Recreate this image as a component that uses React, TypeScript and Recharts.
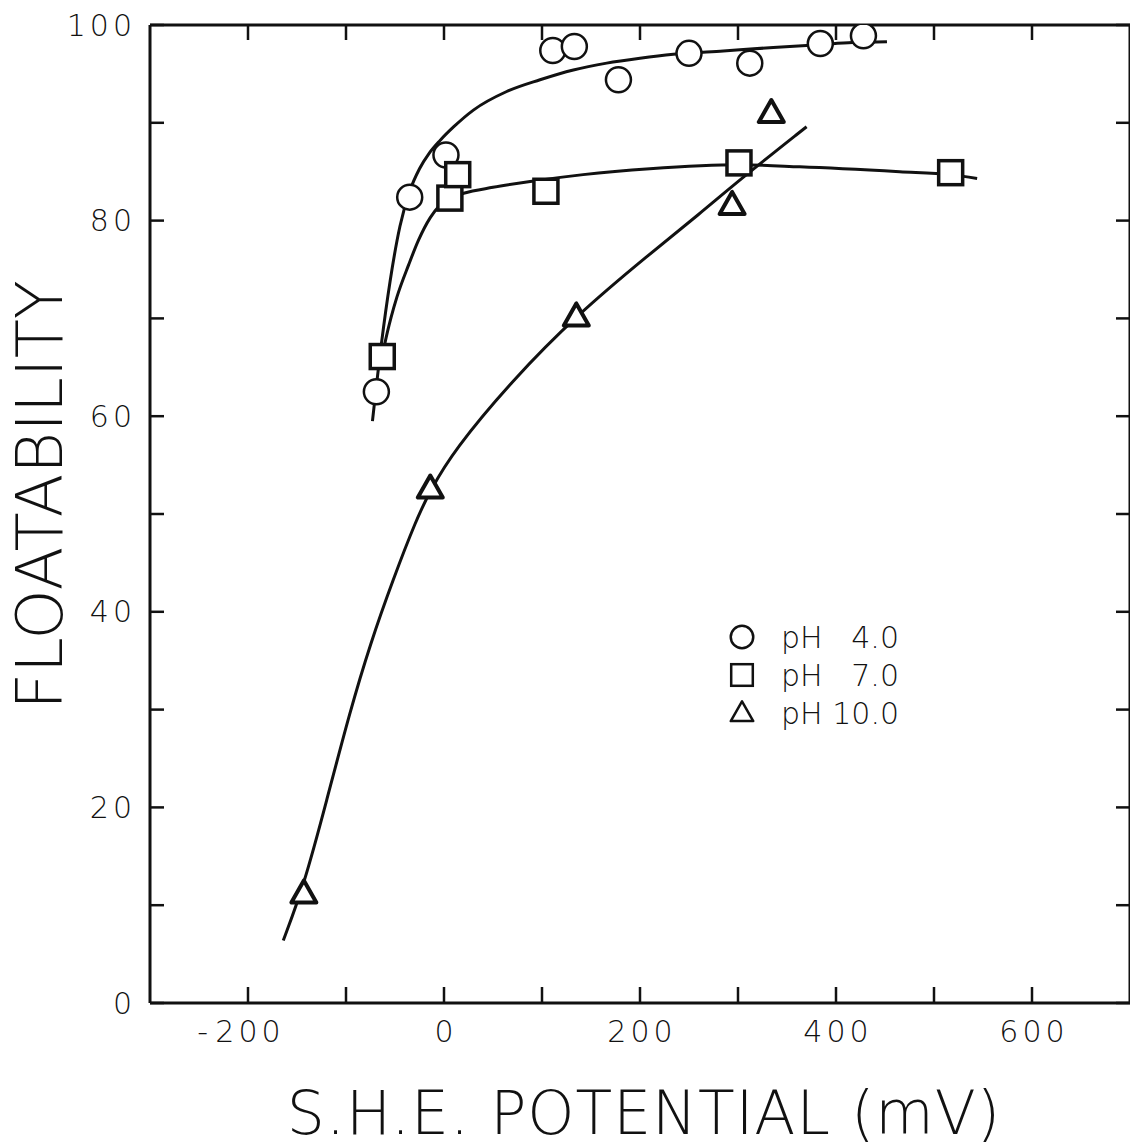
import {
  ComposedChart,
  Legend,
  Line,
  Scatter,
  XAxis,
  YAxis,
} from 'recharts'

// measured points
const ph4X = [-69, -35, 2, 111, 133, 178, 250, 312, 384, 428]
const ph4Y = [62.5, 82.4, 86.7, 97.4, 97.8, 94.4, 97.1, 96.1, 98.1, 98.9]

const ph7X = [-63, 6, 14, 104, 301, 517]
const ph7Y = [66.1, 82.3, 84.7, 83, 85.9, 84.9]

const ph10X = [-143, -14, 135, 294, 334]
const ph10Y = [11.2, 52.6, 70.2, 81.6, 91]

// hand-drawn fitted curves
const ph4CurveX = [-73, -64, -55, -45, -35, -25, -15, -4, 10, 30, 64, 98, 132, 166, 200, 234, 285, 336, 384, 417, 452]
const ph4CurveY = [59.5, 67.3, 73.8, 79.4, 83.0, 85.3, 86.9, 88.2, 89.6, 91.3, 93.2, 94.4, 95.4, 96.1, 96.6, 97.0, 97.35, 97.7, 98.0, 98.2, 98.3]

const ph7CurveX = [-63, -60, -54, -48, -36, -26, -14, -4, 6, 20, 50, 88, 142, 210, 302, 363, 465, 517, 544]
const ph7CurveY = [66.1, 67.6, 70.1, 72.2, 75.5, 78, 80.3, 81.6, 82.3, 82.8, 83.4, 84.0, 84.7, 85.3, 85.7, 85.5, 85.0, 84.7, 84.3]

const ph10CurveX = [-164, -143, -120, -96, -75, -52, -28, -14, 10, 70, 135, 210, 261, 302, 370]
const ph10CurveY = [6.4, 12.0, 20.6, 29.8, 36.8, 43.3, 49.5, 52.4, 56.5, 63.7, 70.3, 76.6, 80.7, 84.2, 89.6]

const xTicks = [-200, -100, 0, 100, 200, 300, 400, 500, 600]
const yTicks = [0, 10, 20, 30, 40, 50, 60, 70, 80, 90, 100]

const seriesNames = ['pH', 'pH', 'pH']
const seriesValues = ['4.0', '7.0', '10.0']

const zip = (xs: number[], ys: number[]) => xs.map((x, i) => ({ x, y: ys[i] }))

const INK = '#111'
const FONT = '"DejaVu Sans", sans-serif'

function Marker({ kind, cx, cy, s = 1 }: { kind: string; cx: number; cy: number; s?: number }) {
  if (kind === 'circle') {
    return <circle cx={cx} cy={cy} r={12.5 * s} fill="#fff" stroke={INK} strokeWidth={2.5} />
  }
  if (kind === 'square') {
    const h = 12 * s
    return (
      <rect x={cx - h} y={cy - h} width={2 * h} height={2 * h} fill="#fff" stroke={INK} strokeWidth={s < 1 ? 2.5 : 3.5} />
    )
  }
  const p = `${cx},${cy - 13 * s} ${cx - 12.5 * s},${cy + 9 * s} ${cx + 12.5 * s},${cy + 9 * s}`
  return <polygon points={p} fill="#fff" stroke={INK} strokeWidth={s < 1 ? 2.5 : 4} strokeLinejoin="round" />
}

const tickText = { fontSize: 30, fontFamily: FONT, fontWeight: 200, letterSpacing: 4, fill: INK }

function XTick({ x, y, payload }: any) {
  const v = payload.value
  if (v % 200 !== 0) return <g />
  return (
    <g>
      <text x={x + 2} y={y} textAnchor="middle" dominantBaseline="hanging" {...tickText}>
        {Math.abs(v)}
      </text>
      {v < 0 && (
        <text x={x - 40} y={y} textAnchor="end" dominantBaseline="hanging" {...tickText} letterSpacing={0}>
          -
        </text>
      )}
    </g>
  )
}

function YTick({ x, y, payload }: any) {
  if (payload.value % 20 !== 0) return <g />
  return (
    <text x={x} y={y} textAnchor="end" dominantBaseline="central" {...tickText}>
      {payload.value}
    </text>
  )
}

function LegendBox() {
  const kinds = ['circle', 'square', 'triangle']
  return (
    <div style={{ fontFamily: FONT, fontWeight: 200, fontSize: 30, color: INK }}>
      {kinds.map((k, i) => (
        <div key={k} style={{ display: 'flex', alignItems: 'center', height: 38 }}>
          <svg width={30} height={30}>
            <Marker kind={k} cx={15} cy={15} s={0.9} />
          </svg>
          <span style={{ marginLeft: 24, width: 48 }}>{seriesNames[i]}</span>
          <span style={{ width: 70, textAlign: 'right' }}>{seriesValues[i]}</span>
        </div>
      ))}
    </div>
  )
}

export default function App() {
  const lineProps = {
    dataKey: 'y',
    stroke: INK,
    strokeWidth: 3,
    dot: false,
    isAnimationActive: false,
    legendType: 'none' as const,
  }
  const axisLine = { stroke: INK, strokeWidth: 3 }
  const tickLine = { stroke: INK, strokeWidth: 2.5 }
  return (
    <div style={{ position: 'relative', width: 1130, height: 1138 }}>
      <ComposedChart width={1130} height={1138} margin={{ top: 0, right: 0, bottom: 0, left: 0 }}>
        <XAxis
          type="number"
          dataKey="x"
          domain={[-300, 700]}
          ticks={xTicks}
          allowDataOverflow
          height={143}
          tickSize={-16}
          tickMargin={33}
          tick={<XTick />}
          axisLine={axisLine}
          tickLine={tickLine}
        />
        <XAxis
          xAxisId="top"
          orientation="top"
          type="number"
          dataKey="x"
          domain={[-300, 700]}
          ticks={xTicks}
          allowDataOverflow
          height={17}
          tickSize={-15}
          tick={() => <g />}
          axisLine={axisLine}
          tickLine={tickLine}
        />
        <YAxis
          type="number"
          dataKey="y"
          domain={[0, 100]}
          ticks={yTicks}
          allowDataOverflow
          width={142}
          tickSize={-14}
          tickMargin={28}
          tick={<YTick />}
          axisLine={axisLine}
          tickLine={tickLine}
        />
        <YAxis
          yAxisId="right"
          orientation="right"
          type="number"
          dataKey="y"
          domain={[0, 100]}
          ticks={yTicks}
          allowDataOverflow
          width={8}
          tickSize={-14}
          tick={() => <g />}
          axisLine={axisLine}
          tickLine={tickLine}
        />
        <Line {...lineProps} type="monotone" data={zip(ph4CurveX, ph4CurveY)} />
        <Line {...lineProps} type="monotone" data={zip(ph7CurveX, ph7CurveY)} />
        <Line {...lineProps} type="basis" data={zip(ph10CurveX, ph10CurveY)} />
        <Scatter name="pH 4.0" dataKey="y" data={zip(ph4X, ph4Y)} isAnimationActive={false} shape={(p: any) => <Marker kind="circle" cx={p.cx} cy={p.cy} />} />
        <Scatter name="pH 7.0" dataKey="y" data={zip(ph7X, ph7Y)} isAnimationActive={false} shape={(p: any) => <Marker kind="square" cx={p.cx} cy={p.cy} />} />
        <Scatter name="pH 10.0" dataKey="y" data={zip(ph10X, ph10Y)} isAnimationActive={false} shape={(p: any) => <Marker kind="triangle" cx={p.cx} cy={p.cy} />} />
        <Legend
          layout="vertical"
          align="center"
          verticalAlign="middle"
          content={<LegendBox />}
          wrapperStyle={{ left: 719, top: 610, width: 'auto', height: 'auto' }}
        />
      </ComposedChart>
      <div
        style={{
          position: 'absolute',
          left: 32,
          top: 487,
          transform: 'translate(-50%, -50%) rotate(-90deg)',
          fontFamily: FONT,
          fontWeight: 200,
          fontSize: 64,
          lineHeight: 1,
          whiteSpace: 'nowrap',
          color: INK,
        }}
      >
        FLOATABILITY
      </div>
      <div
        style={{
          position: 'absolute',
          left: 636,
          top: 1075,
          transform: 'translateX(-50%)',
          fontFamily: FONT,
          fontWeight: 200,
          fontSize: 60,
          lineHeight: 1,
          letterSpacing: 1,
          whiteSpace: 'nowrap',
          color: INK,
        }}
      >
        S.H.E. POTENTIAL (mV)
      </div>
    </div>
  )
}
